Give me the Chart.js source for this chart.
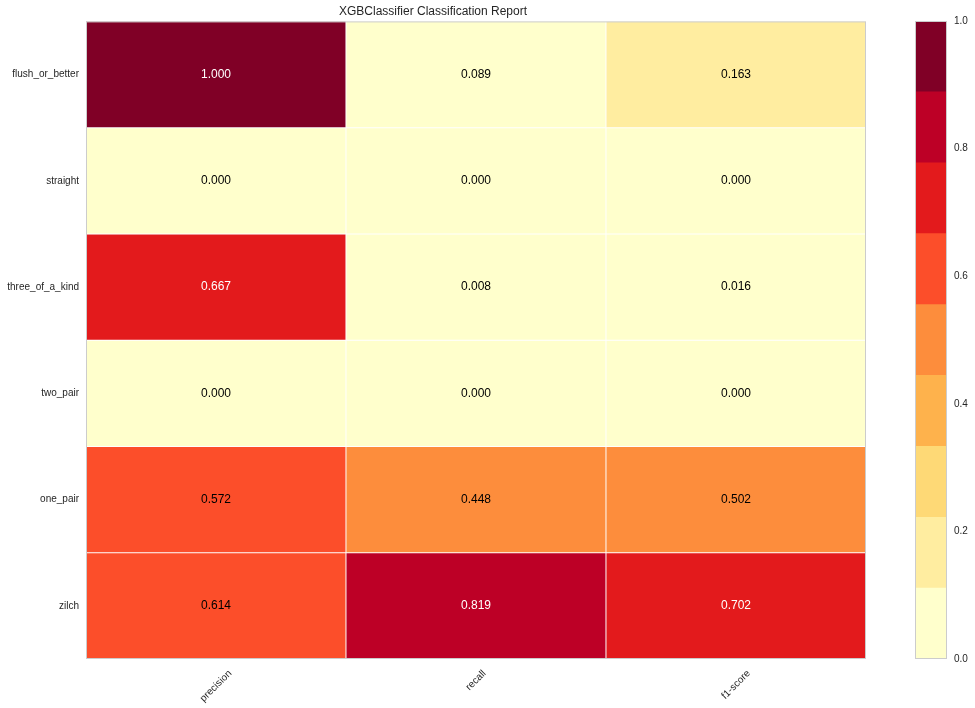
<!DOCTYPE html>
<html>
<head>
<meta charset="utf-8">
<script src="https://cdn.jsdelivr.net/npm/chart.js@4.4.1/dist/chart.umd.min.js"></script>
<style>
html, body { margin: 0; padding: 0; background: #fff; }
#wrap { position: relative; width: 975px; height: 708px; }
#wrap canvas { position: absolute; left: 0; top: 0; }
</style>
</head>
<body>
<div id="wrap">
  <canvas id="report" width="975" height="708"></canvas>
  <canvas id="colorbar" width="975" height="708"></canvas>
</div>
<script>
'use strict';
const classes = ['flush_or_better', 'straight', 'three_of_a_kind', 'two_pair', 'one_pair', 'zilch'];
const metrics = ['precision', 'recall', 'f1-score'];
const precision = [1.000, 0.000, 0.667, 0.000, 0.572, 0.614];
const recall = [0.089, 0.000, 0.008, 0.000, 0.448, 0.819];
const f1Score = [0.163, 0.000, 0.016, 0.000, 0.502, 0.702];
const ylorrd = ['#ffffcc', '#ffeda0', '#fed976', '#feb24c', '#fd8d3c', '#fc4e2a', '#e31a1c', '#bd0026', '#800026'];
const binEdges = [0, 1/9, 2/9, 3/9, 4/9, 5/9, 6/9, 7/9, 8/9, 1];
const colorbarTicks = [0, 0.2, 0.4, 0.6, 0.8, 1.0];

const FONT = '"Liberation Sans", Arial, sans-serif';
const TEXT = '#262626';
const GAP = 0.8;
const scores = classes.map((_, i) => [precision[i], recall[i], f1Score[i]]);

function cellColor(v) {
    let k = 0;
    while (k < ylorrd.length - 1 && v >= binEdges[k + 1]) k++;
    return ylorrd[k];
}

// same brightness rule yellowbrick uses for the cell text
function textColor(hex) {
    const r = parseInt(hex.slice(1, 3), 16);
    const g = parseInt(hex.slice(3, 5), 16);
    const b = parseInt(hex.slice(5, 7), 16);
    const bright = Math.sqrt(0.241 * r * r + 0.691 * g * g + 0.068 * b * b);
    return bright > 128 ? '#000000' : '#ffffff';
}

const cellLabels = {
    id: 'cellLabels',
    afterDatasetsDraw(chart) {
        const {ctx, chartArea, scales: {x, y}} = chart;
        ctx.save();
        ctx.font = '12px ' + FONT;
        ctx.textAlign = 'center';
        ctx.textBaseline = 'middle';
        scores.forEach((row, i) => {
            row.forEach((v, j) => {
                ctx.fillStyle = textColor(cellColor(v));
                ctx.fillText(v.toFixed(3), x.getPixelForValue(j), y.getPixelForValue(i + 0.5));
            });
        });
        ctx.strokeStyle = '#cccccc';
        ctx.lineWidth = 1;
        ctx.strokeRect(chartArea.left + 0.5, chartArea.top + 0.5, chartArea.width - 1, chartArea.height - 1);

        // x tick labels, rotated 45deg and centred on the tick like matplotlib
        ctx.font = '10px ' + FONT;
        ctx.fillStyle = TEXT;
        const top = chartArea.bottom + 9;
        metrics.forEach((m, j) => {
            const w = ctx.measureText(m).width;
            const half = (w + 11) * Math.SQRT1_2 / 2;
            ctx.save();
            ctx.translate(x.getPixelForValue(j), top + half);
            ctx.rotate(-Math.PI / 4);
            ctx.fillText(m, 0, 0);
            ctx.restore();
        });
        ctx.restore();
    }
};

new Chart(document.getElementById('report'), {
    type: 'bar',
    data: {
        labels: metrics,
        datasets: classes.map((name, i) => ({
            label: name,
            data: metrics.map(() => [i, i + 1]),
            backgroundColor: scores[i].map(cellColor),
            borderColor: '#ffffff',
            borderWidth: (c) => ({
                left: c.dataIndex === 0 ? 0 : GAP,
                right: c.dataIndex === metrics.length - 1 ? 0 : GAP,
                top: c.datasetIndex === 0 ? 0 : GAP,
                bottom: c.datasetIndex === classes.length - 1 ? 0 : GAP,
            }),
            borderSkipped: false,
            barPercentage: 1,
            categoryPercentage: 1,
        })),
    },
    options: {
        responsive: false,
        animation: false,
        layout: { padding: { left: 0, right: 109, top: 0, bottom: 0 } },
        plugins: {
            legend: { display: false },
            tooltip: { enabled: false },
            title: {
                display: true,
                text: 'XGBClassifier Classification Report',
                color: TEXT,
                font: { family: FONT, size: 12, weight: 'normal' },
                padding: { top: 4, bottom: 3 },
            },
        },
        scales: {
            x: {
                stacked: true,
                grid: { display: false, drawTicks: false },
                border: { display: false },
                ticks: { display: false },
                afterFit: (s) => { s.height = 49; },
            },
            y: {
                type: 'linear',
                min: 0,
                max: 6,
                reverse: true,
                grid: { display: false, drawTicks: false },
                border: { display: false },
                afterBuildTicks: (s) => { s.ticks = classes.map((_, i) => ({ value: i + 0.5 })); },
                ticks: {
                    padding: 7,
                    color: TEXT,
                    font: { family: FONT, size: 10 },
                    callback: (v) => classes[Math.floor(v)],
                },
                afterFit: (s) => { s.width = 86; },
            },
        },
    },
    plugins: [cellLabels],
});

const colorbarFrame = {
    id: 'colorbarFrame',
    afterDatasetsDraw(chart) {
        const {ctx, chartArea} = chart;
        ctx.save();
        ctx.strokeStyle = '#cccccc';
        ctx.lineWidth = 1;
        ctx.strokeRect(chartArea.left + 0.5, chartArea.top + 0.5, chartArea.width - 1, chartArea.height - 1);
        ctx.restore();
    }
};

new Chart(document.getElementById('colorbar'), {
    type: 'bar',
    data: {
        labels: [''],
        datasets: ylorrd.map((c, k) => ({
            data: [[binEdges[k], binEdges[k + 1]]],
            backgroundColor: c,
            borderWidth: 0,
            barPercentage: 1,
            categoryPercentage: 1,
        })),
    },
    options: {
        responsive: false,
        animation: false,
        layout: { padding: { left: 915, right: 0, top: 21, bottom: 49 } },
        plugins: {
            legend: { display: false },
            tooltip: { enabled: false },
        },
        scales: {
            x: { stacked: true, display: false },
            y: {
                position: 'right',
                min: 0,
                max: 1,
                grid: { display: false, drawTicks: false },
                border: { display: false },
                afterBuildTicks: (s) => { s.ticks = colorbarTicks.map((v) => ({ value: v })); },
                ticks: {
                    padding: 7,
                    color: TEXT,
                    font: { family: FONT, size: 10 },
                    callback: (v) => v.toFixed(1),
                },
                afterFit: (s) => { s.width = 28; },
            },
        },
    },
    plugins: [colorbarFrame],
});
</script>
</body>
</html>
